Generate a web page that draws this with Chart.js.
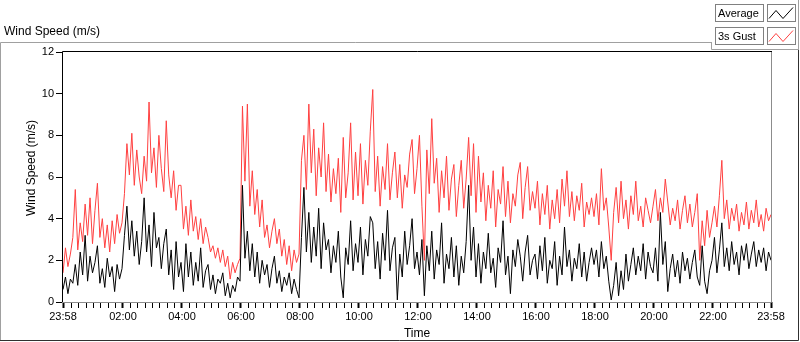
<!DOCTYPE html>
<html>
<head>
<meta charset="utf-8">
<script src="https://cdn.jsdelivr.net/npm/chart.js@4"></script>
<style>
  html, body { margin: 0; padding: 0; background: #fff; }
  #wrap { width: 800px; height: 342px; position: relative; }
</style>
</head>
<body>
<div id="wrap"><canvas id="windChart"></canvas></div>
<script>
// one sample every 5 minutes, starting at 23:58
const stepMinutes = 5;

const avgSpeed = [
  0.6, 1.2, 0.4, 1.1, 0.9, 1.8, 0.8, 2.4, 1.3, 3.2, 1.0, 2.2, 1.4, 1.9, 2.7, 0.9, 1.6, 0.7, 2.1, 1.2, 1.7, 0.5, 1.8, 1.1,
  1.6, 3.2, 4.6, 2.5, 3.9, 2.2, 3.4, 1.8, 2.9, 5.0, 2.4, 3.7, 1.7, 4.3, 2.6, 3.1, 1.6, 2.8, 3.5, 1.3, 2.5, 0.6, 2.9, 1.2,
  1.9, 0.5, 2.8, 1.2, 2.4, 0.8, 1.9, 1.0, 2.6, 0.7, 1.5, 1.8, 0.6, 1.3, 0.4, 1.1, 0.9, 1.4, 0.3, 0.9, 0.2, 0.8, 0.5, 1.2,
  1.0, 5.6, 2.1, 3.4, 1.5, 2.8, 1.2, 2.4, 0.9, 2.0, 1.3, 1.8, 0.7, 1.6, 2.2, 0.9, 1.5, 0.5, 1.2, 0.8, 1.4, 0.4, 1.1, 0.6,
  0.2, 3.1, 5.5, 2.4, 4.3, 1.9, 3.6, 2.2, 4.5, 1.6, 3.8, 2.5, 3.0, 1.4, 2.7, 1.9, 3.4, 1.2, 0.2, 2.6, 1.8, 3.9, 1.5, 2.8,
  1.9, 3.6, 1.3, 3.0, 2.2, 4.1, 3.8, 1.6, 2.9, 1.1, 3.3, 2.0, 4.4, 1.5, 2.6, 3.1, 0.1, 2.3, 1.2, 3.4, 1.8, 2.7, 4.0, 1.6,
  2.4, 1.3, 3.0, 0.3, 2.7, 1.5, 3.4, 1.1, 2.5, 1.8, 3.8, 0.9, 2.3, 1.6, 3.1, 1.2, 2.7, 0.8, 2.2, 1.4, 2.9, 5.6, 2.0, 3.6,
  1.2, 2.8, 0.9, 2.4, 1.6, 3.3, 1.4, 2.1, 0.7, 2.6, 1.9, 3.9, 1.3, 2.2, 0.4, 2.5, 1.7, 3.0, 2.2, 1.0, 2.4, 3.2, 1.3, 2.0,
  2.3, 1.1, 2.7, 1.5, 3.1, 0.9, 2.0, 1.6, 2.9, 0.8, 2.2, 1.3, 3.6, 1.7, 2.5, 1.0, 2.1, 1.6, 2.8, 1.2, 2.4, 1.0, 1.9, 2.6,
  1.8, 2.5, 1.2, 2.9, 1.6, 2.2, 1.0, 0.1, 0.8, 1.9, 0.3, 1.5, 0.6, 2.3, 1.0, 1.8, 2.6, 1.3, 2.2, 1.5, 2.8, 1.1, 2.4, 1.7,
  1.4, 2.6, 1.0, 4.3, 1.8, 2.9, 0.5, 1.6, 2.3, 1.2, 2.0, 0.9, 2.4, 1.5, 2.1, 1.1, 1.9, 2.5, 1.2, 0.8, 2.7, 1.0, 0.4, 1.5,
  2.0, 3.1, 1.4, 2.5, 3.8, 1.7, 2.6, 1.5, 2.9, 1.8, 2.4, 1.3, 2.7, 2.0, 2.8, 1.6, 2.3, 2.9, 1.7, 2.5, 1.9, 2.6, 1.5, 2.4, 2.0
];

const gustSpeed = [
  1.4, 2.6, 1.7, 2.3, 3.1, 5.4, 2.5, 3.8, 2.9, 4.7, 3.2, 5.0, 2.8, 4.4, 5.7, 3.1, 4.0, 2.6, 3.7, 2.4, 3.9, 2.8, 4.2, 3.3,
  3.8, 5.2, 7.6, 6.1, 8.1, 5.6, 7.3, 6.0, 5.2, 7.0, 5.8, 9.6, 6.2, 7.4, 5.5, 8.0, 6.4, 5.3, 8.7, 6.1, 5.0, 6.3, 4.4, 5.6,
  5.6, 3.5, 4.6, 3.2, 4.9, 3.4, 4.1, 3.0, 4.0, 2.8, 3.6, 3.1, 2.4, 2.7, 2.1, 2.6, 1.9, 2.5, 1.7, 2.2, 1.1, 1.9, 1.4, 1.8,
  2.1, 9.4, 5.8, 9.5, 4.6, 6.3, 4.2, 5.4, 3.6, 4.9, 3.1, 3.7, 2.6, 3.4, 4.0, 2.8, 3.5, 2.2, 3.0, 1.8, 2.7, 1.5, 2.5, 1.9,
  2.3, 6.8, 8.0, 5.4, 9.5, 6.2, 8.3, 5.1, 7.4, 6.0, 8.6, 5.3, 7.1, 4.8, 6.4, 5.2, 6.9, 4.3, 7.9, 5.0, 6.2, 8.6, 4.9, 7.2,
  5.1, 7.6, 4.7, 6.8, 5.6, 8.2, 10.2, 5.3, 7.0, 4.6, 6.5, 5.4, 7.6, 4.9, 6.2, 7.2, 5.0, 6.6, 4.5, 6.1, 5.5, 7.1, 7.8, 5.2,
  6.4, 8.0, 4.6, 2.0, 7.3, 5.2, 8.8, 5.7, 6.9, 4.3, 6.3, 5.0, 7.0, 4.4, 5.9, 6.6, 4.1, 5.6, 6.8, 4.5, 5.9, 7.9, 5.1, 7.6,
  4.3, 7.0, 4.8, 6.2, 3.9, 5.6, 4.5, 6.3, 3.6, 5.4, 4.7, 6.5, 4.1, 5.8, 3.8, 5.2, 4.6, 6.1, 6.7, 4.0, 5.5, 6.5, 4.4, 5.3,
  4.5, 5.8, 3.7, 5.2, 4.2, 5.6, 3.5, 4.9, 4.0, 5.4, 3.8, 5.9, 4.6, 6.3, 4.1, 5.3, 3.9, 5.1, 4.4, 5.7, 3.6, 4.8, 4.2, 5.0,
  4.1, 5.2, 3.7, 6.4, 4.4, 5.0, 3.6, 2.0, 4.3, 5.5, 3.8, 5.8, 4.0, 4.9, 3.5, 5.1, 4.2, 5.8, 3.9, 4.6, 3.6, 5.0, 4.4, 3.8,
  4.6, 5.4, 3.9, 5.0, 4.3, 5.9, 4.8, 3.7, 4.5, 3.9, 4.9, 3.5, 4.4, 5.1, 3.8, 4.7, 3.6, 4.3, 5.2, 2.0, 3.9, 2.7, 4.4, 3.1,
  3.8, 4.6, 3.6, 5.1, 6.8, 4.0, 4.9, 3.5, 4.5, 3.9, 4.7, 3.4, 4.3, 3.7, 4.8, 3.5, 4.4, 3.8, 4.9, 3.6, 4.2, 3.4, 4.5, 3.9, 4.2
];

// labelled ticks, in minutes after 23:58
const majorTicks = [0, 122, 242, 362, 482, 602, 722, 842, 962, 1082, 1202, 1322, 1440];
const tickLabels = ["23:58", "02:00", "04:00", "06:00", "08:00", "10:00", "12:00", "14:00", "16:00", "18:00", "20:00", "22:00", "23:58"];
const yTicks = [0, 2, 4, 6, 8, 10, 12];

const FONT = "Liberation Sans";

// minor ticks every quarter hour (clock aligned), plus the ends
const allTicks = [0];
for (let t = 2; t < 1440; t += 15) allTicks.push(t);
allTicks.push(1440);

const toPoints = arr => arr.map((v, i) => ({ x: i * stepMinutes, y: v }));

const framePlugin = {
  id: "frame",
  afterDraw(chart) {
    const ctx = chart.ctx;
    const a = chart.chartArea;
    ctx.save();
    ctx.lineWidth = 1;

    // outer panel
    ctx.strokeStyle = "#a0a0a0";
    ctx.beginPath();
    ctx.moveTo(0.5, 341);
    ctx.lineTo(0.5, 42.5);
    ctx.lineTo(711, 42.5);
    ctx.moveTo(711.5, 42);
    ctx.lineTo(711.5, 49.5);
    ctx.lineTo(799, 49.5);
    ctx.moveTo(798.5, 0);
    ctx.lineTo(798.5, 49.5);
    ctx.stroke();
    ctx.strokeStyle = "#303030";
    ctx.beginPath();
    ctx.moveTo(0, 340.5);
    ctx.lineTo(798.5, 340.5);
    ctx.lineTo(798.5, 50);
    ctx.stroke();

    // plot frame
    ctx.strokeStyle = "#000";
    ctx.beginPath();
    ctx.moveTo(a.left - 0.5, a.bottom);
    ctx.lineTo(a.left - 0.5, a.top - 0.5);
    ctx.lineTo(a.right + 1, a.top - 0.5);
    ctx.stroke();
    ctx.strokeStyle = "#8c8c8c";
    ctx.beginPath();
    ctx.moveTo(a.right + 0.5, a.top);
    ctx.lineTo(a.right + 0.5, a.bottom + 0.5);
    ctx.lineTo(a.left - 1, a.bottom + 0.5);
    ctx.stroke();

    // titles
    ctx.fillStyle = "#000";
    ctx.font = "12px '" + FONT + "'";
    ctx.textBaseline = "middle";
    ctx.textAlign = "left";
    ctx.fillText("Wind Speed (m/s)", 4, 32);
    ctx.textAlign = "center";
    ctx.fillText("Time", 417, 334);
    ctx.save();
    ctx.translate(32, 168);
    ctx.rotate(-Math.PI / 2);
    ctx.fillText("Wind Speed (m/s)", 0, 0);
    ctx.restore();

    // legend
    const items = [["Average", "#000", 4.5], ["3s Gust", "#ff4040", 27.5]];
    ctx.font = "11px '" + FONT + "'";
    ctx.textAlign = "left";
    items.forEach(([name, color, y]) => {
      ctx.strokeStyle = "#808080";
      ctx.strokeRect(715.5, y, 48, 17);
      ctx.strokeRect(767.5, y, 28, 17);
      ctx.fillStyle = "#000";
      ctx.fillText(name, 718, y + 9);
      ctx.strokeStyle = color;
      ctx.beginPath();
      ctx.moveTo(769, y + 14);
      ctx.lineTo(776, y + 6);
      ctx.lineTo(783, y + 14);
      ctx.lineTo(793, y + 3);
      ctx.stroke();
    });

    ctx.restore();
  }
};

document.addEventListener("DOMContentLoaded", () => {
  const canvas = document.getElementById("windChart");

  new Chart(canvas, {
    type: "line",
    data: {
      datasets: [
        {
          label: "Average",
          data: toPoints(avgSpeed),
          borderColor: "#000",
          borderWidth: 1,
          pointRadius: 0,
          tension: 0,
          order: 0
        },
        {
          label: "3s Gust",
          data: toPoints(gustSpeed),
          borderColor: "#ff4040",
          borderWidth: 1,
          pointRadius: 0,
          tension: 0,
          order: 1
        }
      ]
    },
    options: {
      responsive: true,
      maintainAspectRatio: false,
      animation: false,
      layout: { padding: { left: 0, top: 52, right: 29, bottom: 0 } },
      plugins: {
        legend: { display: false },
        tooltip: { enabled: false }
      },
      scales: {
        x: {
          type: "linear",
          min: 0,
          max: 1440,
          afterBuildTicks: axis => { axis.ticks = allTicks.map(v => ({ value: v })); },
          afterFit: scale => { scale.height = 40; },
          ticks: {
            autoSkip: false,
            maxRotation: 0,
            padding: 2,
            color: "#000",
            font: { family: FONT, size: 11 },
            callback: value => {
              const i = majorTicks.indexOf(value);
              return i >= 0 ? tickLabels[i] : "";
            }
          },
          grid: {
            drawOnChartArea: false,
            tickLength: 6,
            tickColor: "#000",
            tickWidth: ctx => (ctx.tick && majorTicks.includes(ctx.tick.value) ? 2 : 1)
          },
          border: { display: false }
        },
        y: {
          min: 0,
          max: 12,
          afterBuildTicks: axis => { axis.ticks = yTicks.map(v => ({ value: v })); },
          afterFit: scale => { scale.width = 63; },
          ticks: {
            padding: 2,
            color: "#000",
            font: { family: FONT, size: 11 }
          },
          grid: {
            drawOnChartArea: false,
            tickLength: 7,
            tickColor: "#000"
          },
          border: { display: false }
        }
      }
    },
    plugins: [framePlugin]
  });
});
</script>
</body>
</html>
